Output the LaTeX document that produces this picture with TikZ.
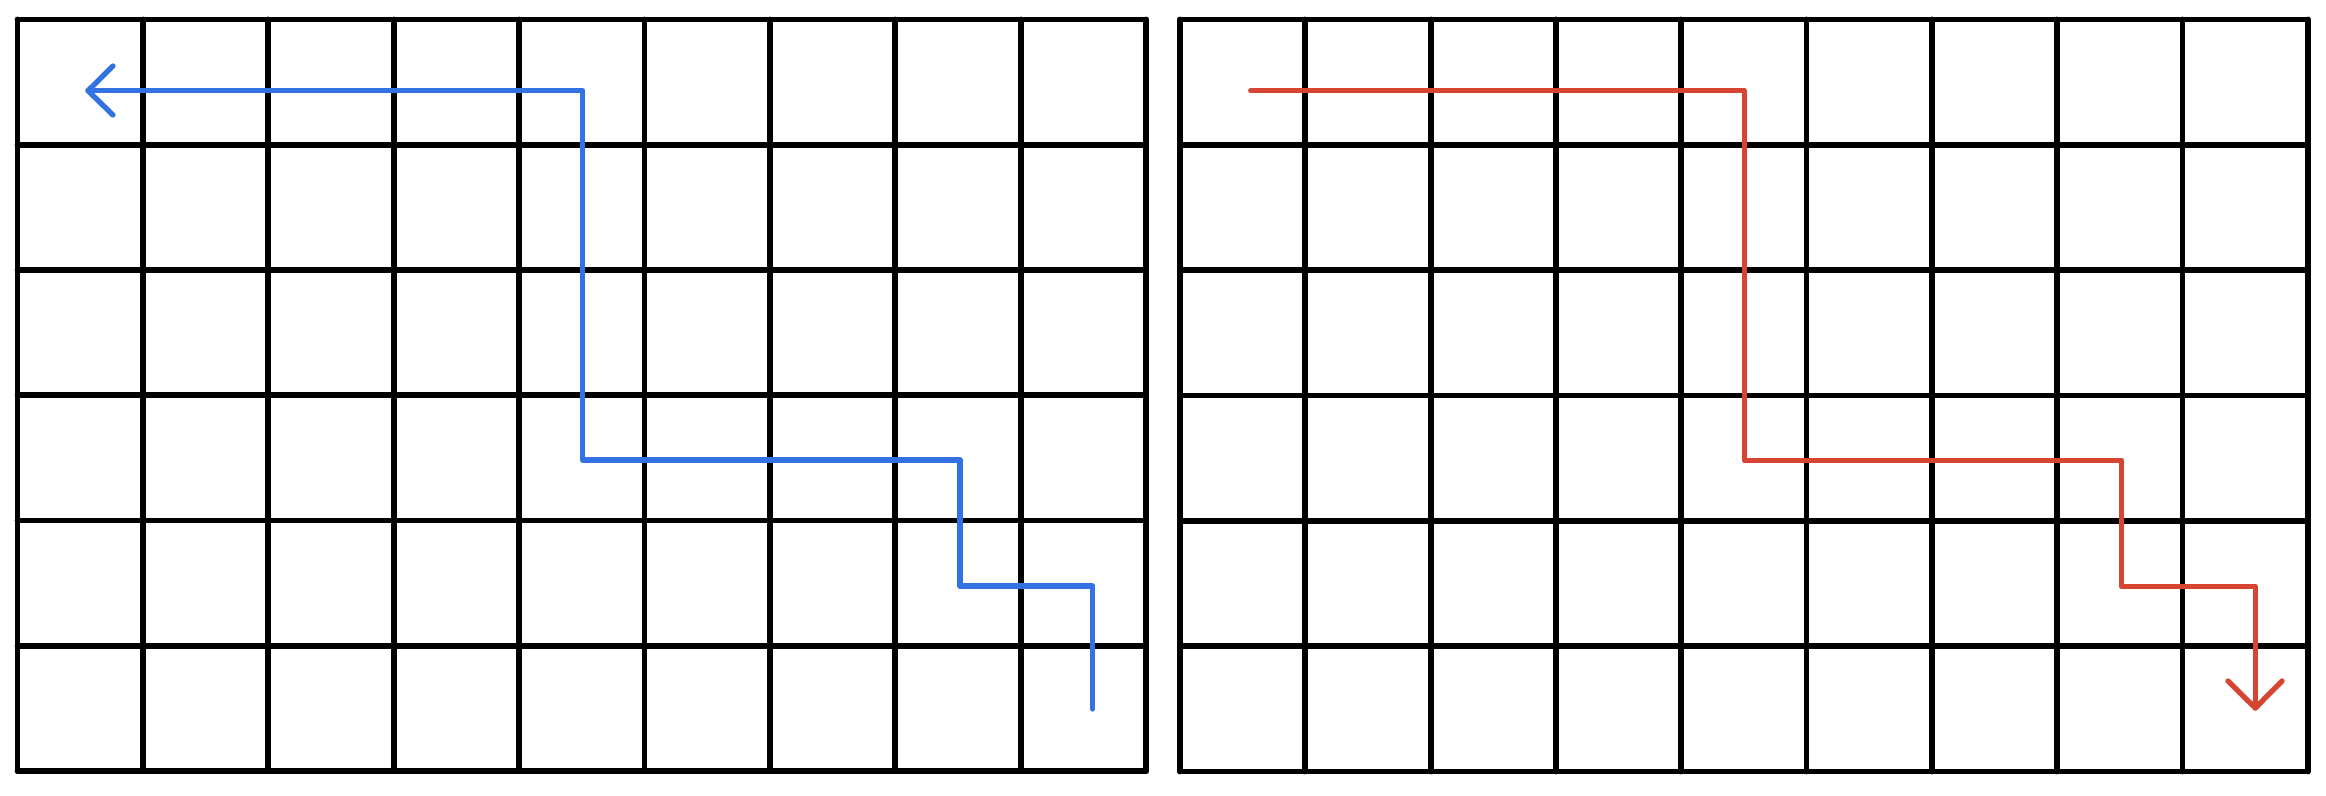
\documentclass[tikz,border=0pt]{standalone}
\definecolor{pathblue}{RGB}{52,114,227}
\definecolor{pathred}{RGB}{214,69,50}
\begin{document}
\begin{tikzpicture}[x=1pt,y=-1pt,
  gridline/.style={line width=5.8pt, black, line cap=round, line join=round},
  bluepath/.style={line width=5.3pt, pathblue, line cap=round, line join=round},
  redpath/.style={line width=5.3pt, pathred, line cap=round, line join=round}]
\useasboundingbox[fill=white] (0,0) rectangle (2326,795);
% left grid
\foreach \i in {0,...,9} \draw[gridline] ({17.5+\i*125.4},19.5) -- ({17.5+\i*125.4},771);
\foreach \j in {0,...,6} \draw[gridline] (17.5,{19.5+\j*125.25}) -- (1146,{19.5+\j*125.25});
% right grid
\foreach \i in {0,...,9} \draw[gridline] ({1180+\i*125.3},19.5) -- ({1180+\i*125.3},771.5);
\foreach \j in {0,...,6} \draw[gridline] (1180,{19.5+\j*125.33}) -- (2307.7,{19.5+\j*125.33});
% blue path coordinates
\coordinate (b0) at (1092.7,709);
\coordinate (b1) at (1092.7,586);
\coordinate (b2) at (960,586);
\coordinate (b3) at (960,460);
\coordinate (b4) at (582.7,460);
\coordinate (b5) at (582.7,90.7);
\coordinate (b6) at (88,90.7);
\coordinate (ba) at (113,66);
\coordinate (bb) at (113,115);
\draw[bluepath] (b0) -- (b1) -- (b2) -- (b3) -- (b4) -- (b5) -- (b6);
\draw[bluepath] (ba) -- (b6) -- (bb);
% red path coordinates
\coordinate (r0) at (1250.7,90.7);
\coordinate (r1) at (1744.3,90.7);
\coordinate (r2) at (1744.3,460.5);
\coordinate (r3) at (2121.7,460.5);
\coordinate (r4) at (2121.7,586.7);
\coordinate (r5) at (2255.3,586.7);
\coordinate (r6) at (2255.3,708);
\coordinate (ra) at (2228,681);
\coordinate (rb) at (2282,681);
\draw[redpath] (r0) -- (r1) -- (r2) -- (r3) -- (r4) -- (r5) -- (r6);
\draw[redpath] (ra) -- (r6) -- (rb);
\end{tikzpicture}
\end{document}
